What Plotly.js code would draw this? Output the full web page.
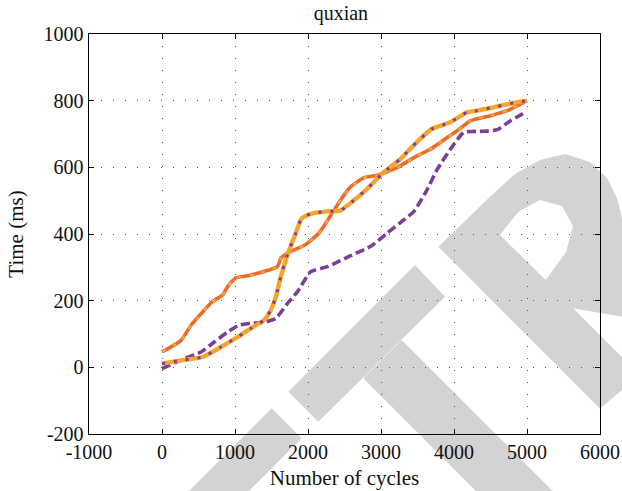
<!DOCTYPE html>
<html>
<head>
<meta charset="utf-8">
<script src="https://cdn.plot.ly/plotly-3.0.1.min.js"></script>
<style>html,body{margin:0;padding:0;background:#fff;}#chart{width:622px;height:491px;}</style>
</head>
<body>
<div id="chart"></div>
<script>
// Series A (red-orange, gold dashes)
var xA = [0, 260, 400, 690, 830, 900, 1010, 1220, 1580, 1630, 1765, 1950, 2150, 2340, 2500, 2600, 2770, 2950, 3220, 3450, 3680, 3910, 4045, 4230, 4500, 4730, 5000];
var yA = [46, 81, 127, 197, 217, 242, 268, 277, 302, 328, 348, 366, 403, 466, 519, 545, 569, 576, 599, 629, 655, 690, 710, 740, 755, 770, 800];
// Series B (orange, purple dashes)
var xB = [0, 260, 557, 807, 1036, 1217, 1400, 1491, 1560, 1628, 1719, 1833, 1910, 2030, 2258, 2440, 2600, 2804, 3032, 3260, 3488, 3693, 3947, 4175, 4311, 4538, 4811, 5000];
var yB = [11, 21, 31, 61, 91, 117, 142, 172, 212, 272, 338, 403, 446, 460, 468, 470, 496, 534, 584, 624, 675, 715, 735, 765, 770, 780, 793, 800];
// Series C (purple dashed)
var xC = [0, 305, 534, 716, 899, 1058, 1217, 1400, 1560, 1719, 1856, 2038, 2267, 2585, 2859, 3087, 3315, 3452, 3634, 3771, 3953, 4135, 4409, 4593, 4775, 4979];
var yC = [-4, 26, 46, 76, 106, 127, 132, 135, 147, 192, 227, 287, 302, 335, 363, 403, 443, 468, 534, 594, 655, 705, 708, 713, 740, 765];

var xTicks = [-1000, 0, 1000, 2000, 3000, 4000, 5000, 6000];
var yTicks = [-200, 0, 200, 400, 600, 800, 1000];

var orangeRed = '#ee6a2a', gold = '#f7a52a', purple = '#7b3f98';

var traces = [
  {x: xC, y: yC, mode: 'lines', line: {color: purple, width: 3.6, dash: '9px,4px', shape: 'spline', smoothing: 0.5}, hoverinfo: 'skip'},
  {x: xA, y: yA, mode: 'lines', line: {color: orangeRed, width: 3.6, shape: 'spline', smoothing: 0.5}, hoverinfo: 'skip'},
  {x: xA, y: yA, mode: 'lines', line: {color: '#e8b03a', width: 2, dash: '4px,8px', shape: 'spline', smoothing: 0.5}, hoverinfo: 'skip'},
  {x: xB, y: yB, mode: 'lines', line: {color: gold, width: 4.4, shape: 'spline', smoothing: 0.5}, hoverinfo: 'skip'},
  {x: xB, y: yB, mode: 'lines', line: {color: purple, width: 3, dash: '3px,9px', shape: 'spline', smoothing: 0.5}, hoverinfo: 'skip'}
];

// watermark (decorative), pixel -> paper conversion
var L = 89, R = 600, T = 34, B = 434;
function P(px, py) { return ((px - L) / (R - L)).toFixed(4) + ',' + ((B - py) / (B - T)).toFixed(4); }
function poly(pts) { return 'M' + pts.map(function(p){return P(p[0], p[1]);}).join('L') + 'Z'; }
var wm1 = poly([[271.7,408.3],[301.7,438.3],[211.7,528.3],[181.7,498.3]]);
var wm2 = poly([[288.3,391.7],[415,265],[445,296.7],[318.3,421.7]]);
var wm3 = poly([[363.3,378.3],[401.7,340],[601.7,540],[563.3,578.3]]);
var wmR = poly([[438.3,246.7],[490,196.7],[515,174],[540,160],[565,154],[590,162],[607,178],[617,198],[623,222],[640,236],[640,320],[573.3,308.3],[640,375],[600,408.4]]) +
          poly([[500,235],[545.7,280],[566,252],[573,226],[562,206],[540,200],[518,212]]);
var wmColor = '#d3d3d3';
var shapes = [wm1, wm2, wm3, wmR].map(function(p){
  return {type: 'path', xref: 'paper', yref: 'paper', path: p, fillcolor: wmColor, fillrule: 'evenodd', line: {width: 0}, layer: 'below'};
});

var fam = '"Liberation Serif", "DejaVu Serif", serif';
var tickFont = {family: fam, color: '#111', size: 20};
var titleFont = {family: fam, color: '#111', size: 21};
var axisCommon = {
  showline: true, linecolor: '#000', linewidth: 1.4, mirror: 'ticks',
  ticks: 'inside', ticklen: 5, tickcolor: '#000', tickwidth: 1,
  showgrid: true, gridcolor: '#555', gridwidth: 1, griddash: '1px,11px',
  zeroline: false, tickfont: tickFont
};

var layout = {
  width: 622, height: 491,
  margin: {l: L, r: 622 - R, t: T, b: 491 - B},
  paper_bgcolor: '#fff', plot_bgcolor: 'rgba(0,0,0,0)',
  showlegend: false,
  title: {text: 'quxian', font: {family: fam, size: 20, color: '#111'}, x: 0.548, xanchor: 'center', y: 0.974, yanchor: 'middle', yref: 'container'},
  xaxis: Object.assign({}, axisCommon, {range: [-1000, 6000], tickvals: xTicks, ticktext: xTicks.map(String),
    title: {text: 'Number of cycles', font: titleFont, standoff: 8}}),
  yaxis: Object.assign({}, axisCommon, {range: [-200, 1000], tickvals: yTicks, ticktext: yTicks.map(String),
    title: {text: 'Time (ms)', font: titleFont, standoff: 14}}),
  shapes: shapes
};

Plotly.newPlot('chart', traces, layout, {displayModeBar: false, staticPlot: true});
</script>
</body>
</html>
